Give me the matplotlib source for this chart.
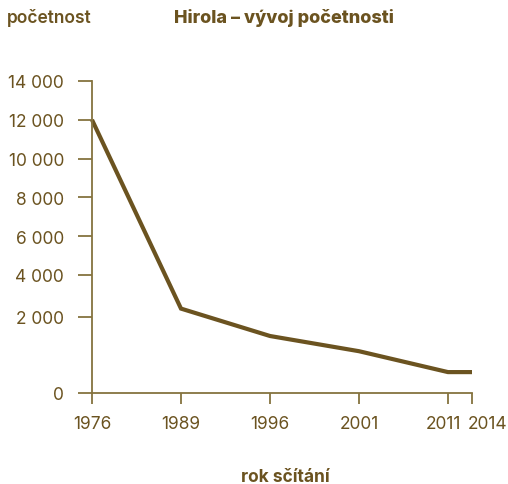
import numpy as np
import matplotlib
matplotlib.use("Agg")
import matplotlib.pyplot as plt
import matplotlib.transforms as mtransforms

# Data
years = [1976, 1989, 1996, 2001, 2011, 2014]
count = [12000, 2400, 1500, 1100, 550, 550]
year_ticks = years
y_ticks = [0, 2000, 4000, 6000, 8000, 10000, 12000, 14000]
y_labels = ['0', '2 000', '4 000', '6 000', '8 000', '10 000', '12 000', '14 000']

# the original axes are not linear: years sit on near-equal steps,
# and the band below 2 000 is stretched
x_nodes = [1976, 1989, 1996, 2001, 2011, 2014]
x_pos = [0, 1, 2, 3, 4, 4.27]
y_nodes = [0, 2000, 4000, 14000]
y_pos = [0, 76, 118, 312]

def fx(v):
    return np.interp(v, x_nodes, x_pos)

def fx_inv(v):
    return np.interp(v, x_pos, x_nodes)

def fy(v):
    return np.interp(v, y_nodes, y_pos)

def fy_inv(v):
    return np.interp(v, y_pos, y_nodes)

dark = '#6b5320'
axis_col = '#85733f'

plt.rcParams['font.family'] = ['Inter', 'DejaVu Sans']

fig = plt.figure(figsize=(5.08, 4.85), dpi=100)
ax = fig.add_axes([92 / 508, 1 - 394 / 485, (472 - 92) / 508, (394 - 82) / 485])

ax.set_xscale('function', functions=(fx, fx_inv))
ax.set_yscale('function', functions=(fy, fy_inv))

ax.plot(years, count, color=dark, linewidth=3, solid_joinstyle='miter',
        solid_capstyle='butt', clip_on=False)

ax.set_xlim(1976, 2014)
ax.set_ylim(0, 14000)
ax.set_xticks(year_ticks)
ax.set_xticklabels([str(y) for y in year_ticks])
ax.set_yticks(y_ticks)
ax.set_yticklabels(y_labels)
ax.minorticks_off()

for side in ['top', 'right']:
    ax.spines[side].set_visible(False)
for side in ['left', 'bottom']:
    ax.spines[side].set_color(axis_col)
    ax.spines[side].set_linewidth(1.3)

ax.tick_params(axis='y', length=10, width=1.3, color=axis_col, labelcolor=dark,
               labelsize=12.5, pad=10)
ax.tick_params(axis='x', length=8, width=1.3, color=axis_col, labelcolor=dark,
               labelsize=12.5, pad=8)

# the last two year labels are pushed apart so they don't collide
labels = ax.get_xticklabels()
labels[-2].set_transform(labels[-2].get_transform() +
                         mtransforms.ScaledTranslation(-5 / 100, 0, fig.dpi_scale_trans))
labels[-1].set_horizontalalignment('left')
labels[-1].set_transform(labels[-1].get_transform() +
                         mtransforms.ScaledTranslation(-4 / 100, 0, fig.dpi_scale_trans))

fig.text(7 / 508, 1 - 18 / 485, 'početnost', color=dark, fontsize=12.5,
         fontweight='semibold', ha='left', va='center')
fig.text(284 / 508, 1 - 18 / 485, 'Hirola – vývoj početnosti', color=dark,
         fontsize=13, fontweight='heavy', ha='center', va='center')
fig.text(285 / 508, 1 - 478 / 485, 'rok sčítání', color=dark, fontsize=12.5,
         fontweight='bold', ha='center', va='center')

plt.savefig('out.png', dpi=100)
plt.close()
